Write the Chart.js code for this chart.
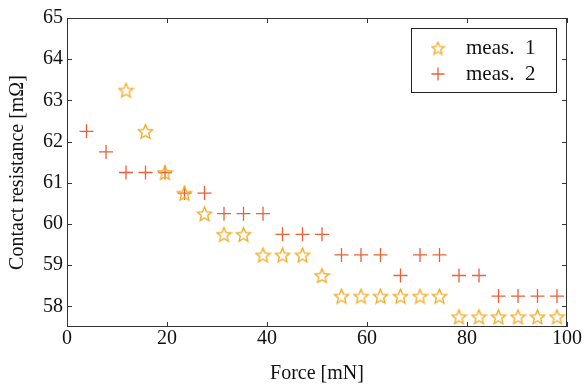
<!DOCTYPE html>
<html lang="en">
<head>
    <meta charset="UTF-8">
    <title>Contact resistance vs force</title>
    <script src="https://cdn.jsdelivr.net/npm/chart.js"></script>
    <style>
        body {
            margin: 0;
            background: #fff;
        }

        .chart-container {
            width: 584px;
            height: 384px;
            position: relative;
        }
    </style>
</head>
<body>

    <div class="chart-container">
        <canvas id="myChart"></canvas>
    </div>

    <script>
        // meas. 1 (stars)
        var forceMeas1 = [11.8, 15.7, 19.6, 23.5, 27.5, 31.4, 35.3, 39.2, 43.1, 47.1, 51.0, 54.9, 58.8, 62.7, 66.7, 70.6, 74.5, 78.4, 82.4, 86.3, 90.2, 94.1, 98.0];
        var resMeas1 = [63.25, 62.25, 61.25, 60.75, 60.25, 59.75, 59.75, 59.25, 59.25, 59.25, 58.75, 58.25, 58.25, 58.25, 58.25, 58.25, 58.25, 57.75, 57.75, 57.75, 57.75, 57.75, 57.75];

        // meas. 2 (crosses)
        var forceMeas2 = [3.9, 7.8, 11.8, 15.7, 19.6, 23.5, 27.5, 31.4, 35.3, 39.2, 43.1, 47.1, 51.0, 54.9, 58.8, 62.7, 66.7, 70.6, 74.5, 78.4, 82.4, 86.3, 90.2, 94.1, 98.0];
        var resMeas2 = [62.25, 61.75, 61.25, 61.25, 61.25, 60.75, 60.75, 60.25, 60.25, 60.25, 59.75, 59.75, 59.75, 59.25, 59.25, 59.25, 58.75, 59.25, 59.25, 58.75, 58.75, 58.25, 58.25, 58.25, 58.25];

        var seriesLabels = ['meas. 1', 'meas. 2'];
        var xTicks = [0, 20, 40, 60, 80, 100];
        var yTicks = [58, 59, 60, 61, 62, 63, 64, 65];

        var starColor = 'rgb(243, 170, 32)';
        var crossColor = 'rgb(234, 96, 56)';
        var fontFamily = "'Liberation Serif', 'DejaVu Serif', serif";

        // 星形マーカー（輪郭のみ）
        function makeStar(size, color) {
            var c = document.createElement('canvas');
            c.width = size;
            c.height = size;
            var g = c.getContext('2d');
            var cx = size / 2, cy = size / 2 + 0.8;
            var rOut = size / 2 - 1, rIn = rOut * 0.45;
            g.beginPath();
            for (var i = 0; i < 10; i++) {
                var r = (i % 2 === 0) ? rOut : rIn;
                var a = -Math.PI / 2 + i * Math.PI / 5;
                var px = cx + r * Math.cos(a), py = cy + r * Math.sin(a);
                if (i === 0) g.moveTo(px, py); else g.lineTo(px, py);
            }
            g.closePath();
            g.strokeStyle = color;
            g.lineWidth = 1.3;
            g.stroke();
            return c;
        }

        var starImg = makeStar(17, starColor);
        var starLegendImg = makeStar(15, starColor);

        function toPoints(xs, ys) {
            return xs.map(function (x, i) { return { x: x, y: ys[i] }; });
        }

        // 枠と内向きの目盛り
        var framePlugin = {
            id: 'frame',
            afterDraw: function (chart) {
                var ctx = chart.ctx;
                var a = chart.chartArea;
                var xs = chart.scales.x, ys = chart.scales.y;
                var len = 5;
                ctx.save();
                ctx.strokeStyle = '#333';
                ctx.lineWidth = 1;
                ctx.strokeRect(a.left + 0.5, a.top + 0.5, a.right - a.left - 1, a.bottom - a.top - 1);
                ctx.beginPath();
                xTicks.forEach(function (v) {
                    var px = Math.round(xs.getPixelForValue(v)) + 0.5;
                    ctx.moveTo(px, a.bottom); ctx.lineTo(px, a.bottom - len);
                    ctx.moveTo(px, a.top); ctx.lineTo(px, a.top + len);
                });
                yTicks.forEach(function (v) {
                    var py = Math.round(ys.getPixelForValue(v)) + 0.5;
                    ctx.moveTo(a.left, py); ctx.lineTo(a.left + len, py);
                    ctx.moveTo(a.right, py); ctx.lineTo(a.right - len, py);
                });
                ctx.stroke();
                ctx.restore();
            }
        };

        // 凡例（枠付き、プロット内右上）
        var legendPlugin = {
            id: 'boxLegend',
            afterDraw: function (chart) {
                var ctx = chart.ctx;
                var bx = 411.5, by = 28.5, bw = 145, bh = 64;
                ctx.save();
                ctx.fillStyle = '#fff';
                ctx.fillRect(bx, by, bw, bh);
                ctx.strokeStyle = '#222';
                ctx.lineWidth = 1;
                ctx.strokeRect(bx, by, bw, bh);

                ctx.drawImage(starLegendImg, 438 - 7.5, 48 - 7.5);

                ctx.strokeStyle = crossColor;
                ctx.lineWidth = 1.3;
                ctx.beginPath();
                ctx.moveTo(431.5, 74); ctx.lineTo(444.5, 74);
                ctx.moveTo(438, 67.5); ctx.lineTo(438, 80.5);
                ctx.stroke();

                ctx.fillStyle = '#111';
                ctx.font = '21px ' + fontFamily;
                ctx.textBaseline = 'middle';
                ctx.textAlign = 'left';
                ctx.fillText(seriesLabels[0].replace(' ', '  '), 466, 48);
                ctx.fillText(seriesLabels[1].replace(' ', '  '), 466, 74);
                ctx.restore();
            }
        };

        var ctx = document.getElementById('myChart').getContext('2d');
        var myChart = new Chart(ctx, {
            type: 'scatter',
            data: {
                datasets: [{
                    label: seriesLabels[0],
                    data: toPoints(forceMeas1, resMeas1),
                    pointStyle: starImg,
                    pointRadius: 8,
                    clip: false
                }, {
                    label: seriesLabels[1],
                    data: toPoints(forceMeas2, resMeas2),
                    pointStyle: 'cross',
                    pointRadius: 7,
                    borderColor: crossColor,
                    backgroundColor: crossColor,
                    borderWidth: 1.3,
                    clip: false
                }]
            },
            options: {
                responsive: true,
                maintainAspectRatio: false,
                animation: false,
                layout: {
                    padding: { top: 18, right: 17, left: 0, bottom: 0 }
                },
                plugins: {
                    legend: { display: false },
                    tooltip: { enabled: false }
                },
                scales: {
                    x: {
                        type: 'linear',
                        min: 0,
                        max: 100,
                        grid: { display: false, drawTicks: false },
                        border: { display: false },
                        afterBuildTicks: function (scale) {
                            scale.ticks = xTicks.map(function (v) { return { value: v }; });
                        },
                        afterFit: function (scale) { scale.height = 57; },
                        ticks: {
                            color: '#111',
                            padding: 0,
                            maxRotation: 0,
                            font: { family: fontFamily, size: 20 }
                        },
                        title: {
                            display: true,
                            text: 'Force [mN]',
                            color: '#111',
                            padding: { top: 0, bottom: -2 },
                            font: { family: fontFamily, size: 20 }
                        }
                    },
                    y: {
                        type: 'linear',
                        min: 57.5,
                        max: 65,
                        grid: { display: false, drawTicks: false },
                        border: { display: false },
                        afterBuildTicks: function (scale) {
                            scale.ticks = yTicks.map(function (v) { return { value: v }; });
                        },
                        afterFit: function (scale) { scale.width = 67; },
                        ticks: {
                            color: '#111',
                            padding: 4,
                            font: { family: fontFamily, size: 20 }
                        },
                        title: {
                            display: true,
                            text: 'Contact resistance [mΩ]',
                            color: '#111',
                            padding: { top: 6, bottom: 0 },
                            font: { family: fontFamily, size: 20 }
                        }
                    }
                }
            },
            plugins: [framePlugin, legendPlugin]
        });
    </script>

</body>
</html>
